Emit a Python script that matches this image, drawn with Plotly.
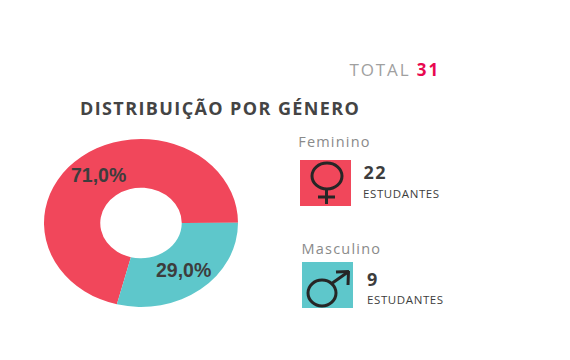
import math
import json
import plotly.graph_objects as go

W, H = 570, 360
genders = ["Feminino", "Masculino"]
students = [22, 9]
colors = ["#F1475B", "#5EC7CB"]
total = sum(students)
title = "DISTRIBUIÇÃO POR GÉNERO"
unit = "ESTUDANTES"
FONT = "Open Sans"
DARK = "#3d3d3d"
ROTATION = 194.4
HOLE = 0.42


def px(x):
    return x / W


def py(y):
    return 1 - y / H


# Pie: radius 84 px around (141,223); widened to an ellipse by the post script
CX, CY, RY, RX = 141, 223, 84, 97
pie = go.Pie(
    labels=genders, values=students, sort=False, direction="clockwise",
    rotation=ROTATION, hole=HOLE, showlegend=False,
    marker=dict(colors=colors, line=dict(width=0)),
    textinfo="none",
    domain=dict(x=[px(CX - RY), px(CX + RY)], y=[py(CY + RY), py(CY - RY)]),
    hoverinfo="skip",
)
fig = go.Figure(pie)

spacings = []


def txt(x, y, text, size, color, bold=False, spacing=0, anchor="left", family=FONT, nchars=0):
    # letter spacing grows the text around its centre, so shift by half the extra width
    fig.add_annotation(
        x=px(x + spacing * nchars / 2), y=py(y), xref="paper", yref="paper",
        xanchor=anchor, yanchor="middle",
        text=f"<b>{text}</b>" if bold else text, showarrow=False,
        font=dict(family=family, size=size, color=color), borderpad=0, borderwidth=0,
    )
    spacings.append(spacing)


total_text = f"TOTAL {total}"
txt(349, 69.5, f'TOTAL <b style="color:#E8084F">{total}</b>', 17, "#a0a0a0", spacing=1.9,
    nchars=len(total_text))
txt(80, 108, title, 18, "#444444", True, spacing=1.4, nchars=len(title))
txt(298, 142, genders[0], 14.5, "#8a8a8a", spacing=1.2, nchars=len(genders[0]))
txt(363, 172, str(students[0]), 18, DARK, True, spacing=1.5, nchars=2)
txt(363, 193, unit, 11.5, DARK, spacing=0.6, nchars=len(unit))
txt(302, 248, genders[1], 14.5, "#8a8a8a", spacing=1.2, nchars=len(genders[1]))
txt(367, 279, str(students[1]), 18, DARK, True)
txt(367, 299, unit, 11.5, DARK, spacing=0.6, nchars=len(unit))

# Percent labels at the middle of each slice's ring, on the ellipse
start = ROTATION
for v in students:
    share = v / total
    mid = math.radians(start + share * 180)
    start += share * 360
    r = (1 + HOLE) / 2
    label = f"{share * 100:.1f}%".replace(".", ",")
    txt(CX + r * RX * math.sin(mid), CY - r * RY * math.cos(mid) - 0.5, label, 19.5, DARK, True,
        anchor="center", family="Liberation Sans")


def rect(x0, y0, x1, y1, color):
    fig.add_shape(type="rect", xref="paper", yref="paper", x0=px(x0), x1=px(x1),
                  y0=py(y0), y1=py(y1), fillcolor=color, line_width=0, layer="below")


def ring(x0, y0, x1, y1):
    fig.add_shape(type="circle", xref="paper", yref="paper", x0=px(x0), x1=px(x1),
                  y0=py(y0), y1=py(y1), line=dict(color="#262626", width=3))


def seg(x0, y0, x1, y1):
    fig.add_shape(type="line", xref="paper", yref="paper", x0=px(x0), x1=px(x1),
                  y0=py(y0), y1=py(y1), line=dict(color="#262626", width=3))


rect(300, 160, 351, 206, colors[0])
ring(312, 163, 342, 189)
seg(326.5, 189, 326.5, 204)
seg(318, 197, 335, 197)

rect(302, 262, 353, 308, colors[1])
ring(308, 280, 336, 306)
seg(331, 284, 348, 272)
seg(336, 272, 349, 271.5)
seg(348.5, 271, 348, 285)

fig.update_layout(
    width=W, height=H, margin=dict(l=0, r=0, t=0, b=0),
    paper_bgcolor="white",
)

post = f"""
document.body.style.margin = '0';
var g = document.querySelector('.pielayer .trace');
if (g) g.setAttribute('transform',
  'translate({CX},{CY}) scale({RX / RY},1) translate({-CX},{-CY})');
var sp = {json.dumps(spacings)};
document.querySelectorAll('.annotation').forEach(function (a) {{
  var i = +a.getAttribute('data-index');
  var t = a.querySelector('.annotation-text');
  if (t && sp[i]) t.style.letterSpacing = sp[i] + 'px';
}});
"""
fig.write_html("out.html", post_script=post, config={"staticPlot": True})
